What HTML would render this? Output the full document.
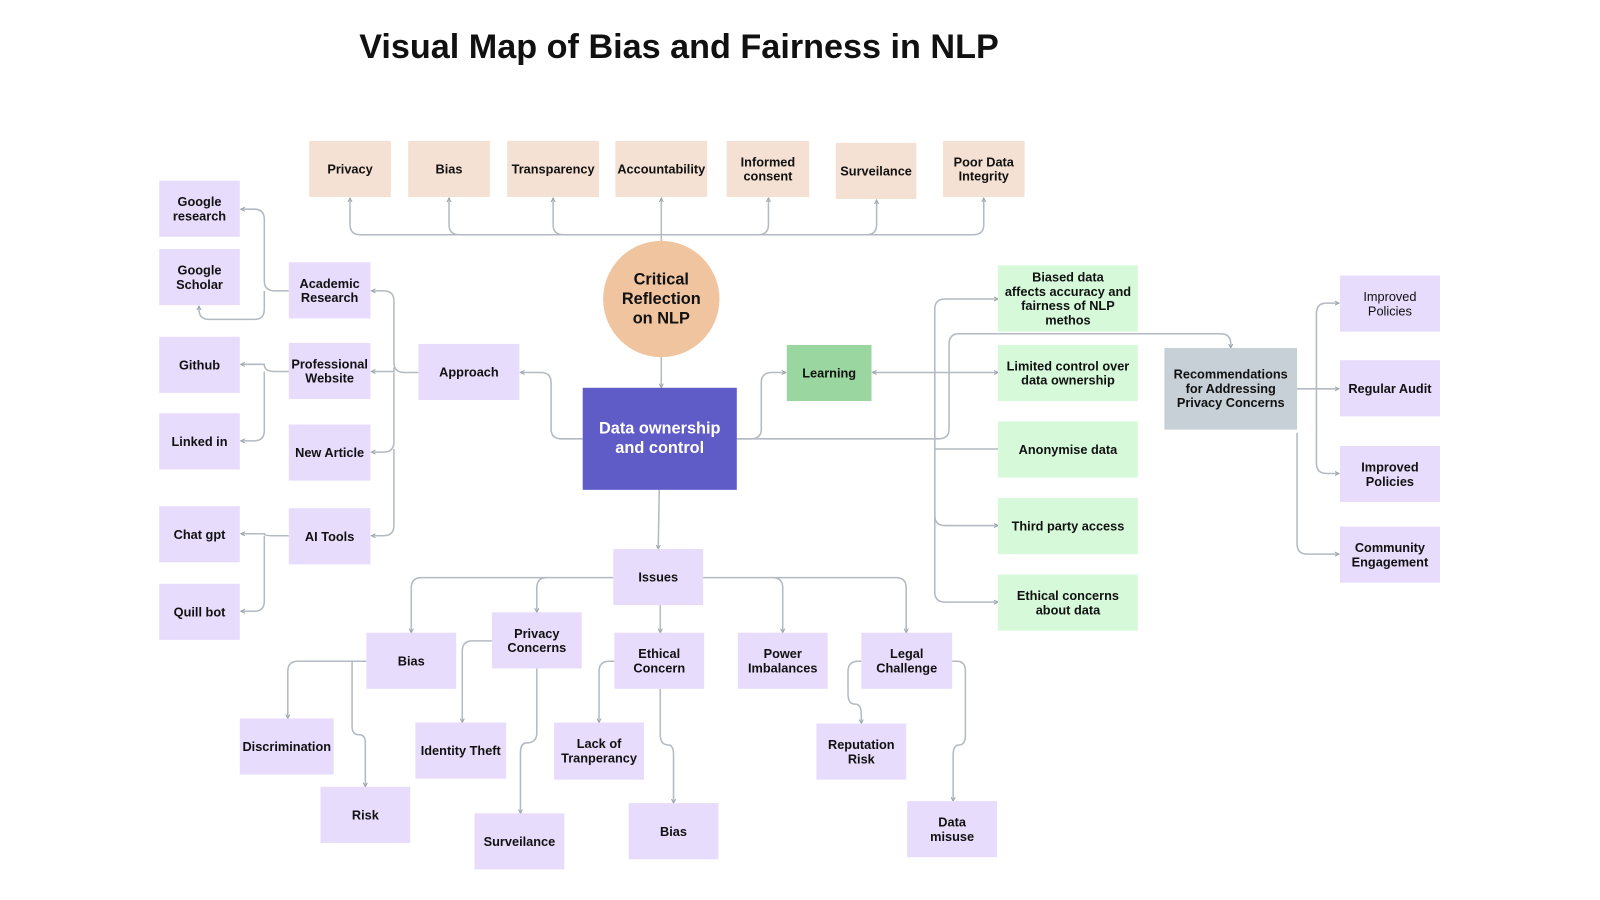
<!DOCTYPE html>
<html><head><meta charset="utf-8"><style>
html,body{margin:0;padding:0;background:#fff;width:1600px;height:900px;overflow:hidden}
#w{position:absolute;left:0;top:0;width:1560px;height:878px;transform:scale(1.0205);transform-origin:0 0;font-family:"Liberation Sans",Arial,sans-serif}
.n{position:absolute;display:flex;align-items:center;justify-content:center;text-align:center;font-weight:bold;font-size:12.5px;color:#111;line-height:14px;box-sizing:border-box;padding:0 2px}
.p{background:#f4e1d3}.u{background:#e7dcfb}.g{background:#d5f9d9}
svg{position:absolute;left:0;top:0}
</style></head><body><div id="w">
<div style="position:absolute;left:352px;top:28px;font-size:33.5px;font-weight:bold;color:#111;white-space:nowrap">Visual Map of Bias and Fairness in NLP</div>
<svg width="1560" height="878" fill="none" stroke="#b3bac1" stroke-width="1.5">
<defs><marker id="a" markerUnits="userSpaceOnUse" markerWidth="6" markerHeight="6" refX="4" refY="3" orient="auto"><path d="M0,1 L4,3 L0,5" stroke="#9aa3ab" fill="none" stroke-width="1"/></marker></defs>
<g marker-end="url(#a)">
<path d="M648,237 V194"/>
<path d="M648,230 H353 Q343,230 343,220 V194"/>
<path d="M450,230 Q440,230 440,220 V194"/>
<path d="M552,230 Q542,230 542,220 V194"/>
<path d="M648,230 H954 Q964,230 964,220 V194"/>
<path d="M743,230 Q753,230 753,220 V194"/>
<path d="M849,230 Q859,230 859,220 V196"/>
<path d="M648,350 V380"/>
<path d="M571,430 H550 Q540,430 540,420 V375 Q540,365 530,365 H510"/>
<path d="M410,365 H396 Q386,365 386,355 V295 Q386,285 376,285 H364"/>
<path d="M386,360 V364 H364"/>
<path d="M386,365 V433 Q386,443 376,443 H364"/>
<path d="M386,440 V515 Q386,525 376,525 H364"/>
<path d="M283,285 H269 Q259,285 259,275 V215 Q259,205 249,205 H236"/>
<path d="M259,285 V303 Q259,313 249,313 H205 Q195,313 195,303 V300"/>
<path d="M283,364 H269 Q259,364 259,357 H236"/>
<path d="M259,364 V422 Q259,432 249,432 H236"/>
<path d="M283,525 H269 Q259,525 259,523 H236"/>
<path d="M259,525 V589 Q259,599 249,599 H236"/>
<path d="M722,430 H736 Q746,430 746,420 V375 Q746,365 756,365 H770"/>
<path d="M916,365 H855"/>
<path d="M916,365 V303 Q916,293 926,293 H978"/>
<path d="M916,365 H978"/>
<path d="M916,365 V505 Q916,515 926,515 H978"/>
<path d="M916,500 V580 Q916,590 926,590 H978"/>
<path d="M722,430 H920 Q930,430 930,420 V337 Q930,327 940,327 H1196 Q1206,327 1206,337 V341"/>
<path d="M1271,381 H1312"/>
<path d="M1290,381 V307 Q1290,297 1300,297 H1312"/>
<path d="M1290,381 V454 Q1290,464 1300,464 H1312"/>
<path d="M1271,424 V533 Q1271,543 1281,543 H1312"/>
<path d="M646,480 L645,538"/>
<path d="M601,566 H413 Q403,566 403,576 V620"/>
<path d="M536,566 Q526,566 526,576 V600"/>
<path d="M647,593 V620"/>
<path d="M689,566 H757 Q767,566 767,576 V620"/>
<path d="M757,566 H878 Q888,566 888,576 V620"/>
<path d="M359,648 H292 Q282,648 282,658 V704"/>
<path d="M345,648 V712 Q345,720 352,720 Q358,720 358,728 V771"/>
<path d="M482,628 H463 Q453,628 453,638 V708"/>
<path d="M526,655 V718 Q526,728 516,728 Q510,728 510,738 V797"/>
<path d="M602,648 H597 Q587,648 587,658 V708"/>
<path d="M647,675 V720 Q647,730 655,730 Q660,730 660,740 V787"/>
<path d="M844,648 H841 Q831,648 831,658 V680 Q831,690 838,690 Q844,690 844,700 V709"/>
<path d="M933,648 H938 Q946,648 946,658 V720 Q946,730 940,730 Q934,730 934,740 V785"/>
</g>
<path d="M916,440 H978" stroke="#b3bac1"/>
<path d="M916,365 V505" stroke="#b3bac1"/>
</svg>
<div class="n p" style="left:303px;top:138px;width:80px;height:55px">Privacy</div>
<div class="n p" style="left:400px;top:138px;width:80px;height:55px">Bias</div>
<div class="n p" style="left:497px;top:138px;width:90px;height:55px">Transparency</div>
<div class="n p" style="left:603px;top:138px;width:90px;height:55px">Accountability</div>
<div class="n p" style="left:712px;top:138px;width:81px;height:55px">Informed<br>consent</div>
<div class="n p" style="left:819px;top:140px;width:79px;height:55px">Surveilance</div>
<div class="n p" style="left:924px;top:138px;width:80px;height:55px">Poor Data<br>Integrity</div>
<div class="n" style="left:591px;top:236px;width:114px;height:114px;border-radius:50%;background:#f0c49f;font-size:16px;line-height:19px">Critical<br>Reflection<br>on NLP</div>
<div class="n" style="left:571px;top:380px;width:151px;height:100px;background:#5f5bc7;color:#fff;font-size:16px;line-height:19px">Data ownership<br>and control</div>
<div class="n u" style="left:410px;top:337px;width:99px;height:55px">Approach</div>
<div class="n u" style="left:283px;top:257px;width:80px;height:55px">Academic<br>Research</div>
<div class="n u" style="left:283px;top:336px;width:80px;height:55px">Professional<br>Website</div>
<div class="n u" style="left:283px;top:416px;width:80px;height:55px">New Article</div>
<div class="n u" style="left:283px;top:498px;width:80px;height:55px">AI Tools</div>
<div class="n u" style="left:156px;top:177px;width:79px;height:55px">Google<br>research</div>
<div class="n u" style="left:156px;top:244px;width:79px;height:55px">Google<br>Scholar</div>
<div class="n u" style="left:156px;top:330px;width:79px;height:55px">Github</div>
<div class="n u" style="left:156px;top:405px;width:79px;height:55px">Linked in</div>
<div class="n u" style="left:156px;top:496px;width:79px;height:55px">Chat gpt</div>
<div class="n u" style="left:156px;top:572px;width:79px;height:55px">Quill bot</div>
<div class="n" style="left:771px;top:338px;width:83px;height:55px;background:#9ad69f">Learning</div>
<div class="n g" style="left:978px;top:260px;width:137px;height:65px">Biased data<br>affects accuracy and<br>fairness of NLP<br>methos</div>
<div class="n g" style="left:978px;top:338px;width:137px;height:55px">Limited control over<br>data ownership</div>
<div class="n g" style="left:978px;top:413px;width:137px;height:55px">Anonymise data</div>
<div class="n g" style="left:978px;top:488px;width:137px;height:55px">Third party access</div>
<div class="n g" style="left:978px;top:563px;width:137px;height:55px">Ethical concerns<br>about data</div>
<div class="n" style="left:1141px;top:341px;width:130px;height:80px;background:#c8d0d7">Recommendations<br>for Addressing<br>Privacy Concerns</div>
<div class="n u" style="left:1313px;top:270px;width:98px;height:55px;font-weight:normal">Improved<br>Policies</div>
<div class="n u" style="left:1313px;top:353px;width:98px;height:55px">Regular Audit</div>
<div class="n u" style="left:1313px;top:437px;width:98px;height:55px">Improved<br>Policies</div>
<div class="n u" style="left:1313px;top:516px;width:98px;height:55px">Community<br>Engagement</div>
<div class="n u" style="left:601px;top:538px;width:88px;height:55px">Issues</div>
<div class="n u" style="left:359px;top:620px;width:88px;height:55px">Bias</div>
<div class="n u" style="left:482px;top:600px;width:88px;height:55px">Privacy<br>Concerns</div>
<div class="n u" style="left:602px;top:620px;width:88px;height:55px">Ethical<br>Concern</div>
<div class="n u" style="left:723px;top:620px;width:88px;height:55px">Power<br>Imbalances</div>
<div class="n u" style="left:844px;top:620px;width:89px;height:55px">Legal<br>Challenge</div>
<div class="n u" style="left:235px;top:704px;width:92px;height:55px">Discrimination</div>
<div class="n u" style="left:314px;top:771px;width:88px;height:55px">Risk</div>
<div class="n u" style="left:407px;top:708px;width:89px;height:55px">Identity Theft</div>
<div class="n u" style="left:465px;top:797px;width:88px;height:55px">Surveilance</div>
<div class="n u" style="left:543px;top:708px;width:88px;height:56px">Lack of<br>Tranperancy</div>
<div class="n u" style="left:616px;top:787px;width:88px;height:55px">Bias</div>
<div class="n u" style="left:800px;top:709px;width:88px;height:55px">Reputation<br>Risk</div>
<div class="n u" style="left:889px;top:785px;width:88px;height:55px">Data<br>misuse</div>
</div></body></html>
